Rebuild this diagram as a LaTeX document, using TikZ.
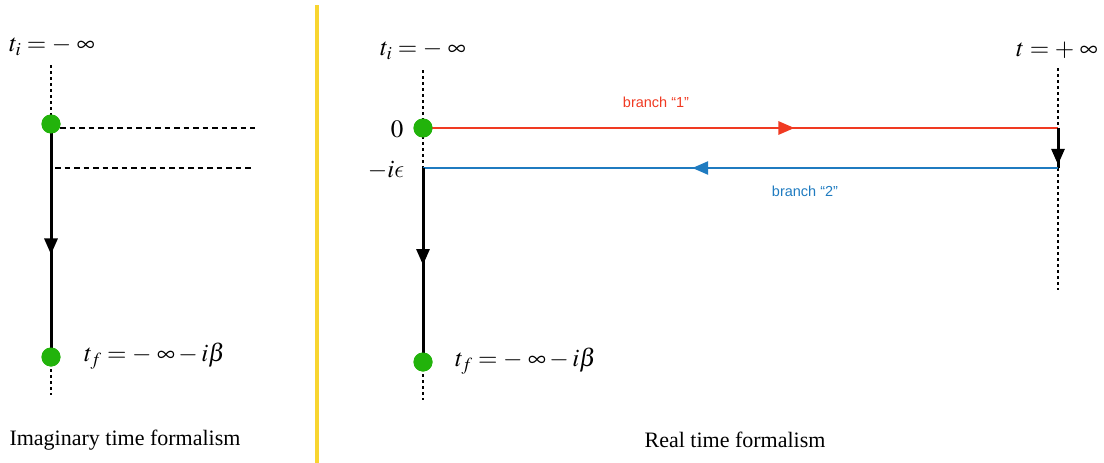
\documentclass[tikz,border=0pt]{standalone}
\usepackage{mathptmx}
\usepackage{fontspec}
\setmainfont{Liberation Serif}
\newfontfamily\branchfont{Liberation Sans}
\DeclareSymbolFont{cmletters}{OML}{cmm}{m}{it}
\DeclareMathSymbol{\lunateeps}{\mathord}{cmletters}{"0F}
\usetikzlibrary{arrows.meta,decorations.markings}
\definecolor{dotgreen}{HTML}{22B30B}
\definecolor{brone}{HTML}{F03A22}
\definecolor{brtwo}{HTML}{1F7BC0}
\definecolor{sepyellow}{HTML}{F8D530}
\begin{document}
\begin{tikzpicture}[x=1pt,y=-1pt,
  dot/.style={circle,fill=dotgreen,inner sep=0pt,minimum size=19pt},
  lbl/.style={inner sep=0pt,font=\fontsize{25}{30}\selectfont},
  captxt/.style={inner sep=0pt,font=\fontsize{22}{26}\selectfont},
  brlbl/.style={inner sep=0pt,font=\branchfont\fontsize{14.5}{17}\selectfont},
  dotline/.style={line width=1.4pt,dash pattern=on 3pt off 3pt},
  dashline/.style={line width=1.6pt,dash pattern=on 5.5pt off 4pt},
  solidline/.style={line width=3pt},
  colline/.style={line width=2.6pt},
  midarrow/.style={postaction={decorate},decoration={markings,
    mark=at position #1 with {\arrow{Triangle[length=16pt,width=13pt]}}}}
]
\useasboundingbox (0,0) rectangle (1104,463);

% separator
\coordinate (s1) at (317,5);
\coordinate (s2) at (317,463);
\draw[sepyellow,line width=4pt] (s1) -- (s2);

% ---------- left panel ----------
\coordinate (lt) at (51,65);
\coordinate (lb) at (51,395);
\coordinate (d1s) at (60,128);
\coordinate (d1e) at (255,128);
\coordinate (d2s) at (55,168);
\coordinate (d2e) at (253,168);
\node[dot] (la) at (51,124) {};
\node[dot] (lf) at (51,357) {};
\draw[dotline] (lt) -- (la.center);
\draw[dotline] (lf.center) -- (lb);
\draw[solidline,midarrow=0.56] (la.center) -- (lf.center);
\node[dot] at (51,124) {};
\node[dot] at (51,357) {};
\draw[dashline] (d1s) -- (d1e);
\draw[dashline] (d2s) -- (d2e);
\node[lbl] (lti) at (52,46) {$t_i = -\;\infty$};
\node[lbl,anchor=west] (ltf) at (84,356) {$t_f = -\;\infty - i\beta$};
\node[captxt] (lcap) at (125,440) {Imaginary time formalism};

% ---------- right panel ----------
\coordinate (rt) at (423,70);
\coordinate (re) at (423,168);
\coordinate (rb) at (423,400);
\coordinate (qt) at (1058,68);
\coordinate (q1) at (1058,128);
\coordinate (q2) at (1058,168);
\coordinate (qb) at (1058,290);
\node[dot] (ra) at (423,128) {};
\node[dot] (rf) at (423,362) {};
\draw[dotline] (rt) -- (ra.center) -- (re);
\draw[dotline] (rf.center) -- (rb);
\draw[dotline] (qt) -- (q1);
\draw[dotline] (q2) -- (qb);
\draw[brone,colline,midarrow=0.585] (ra.center) -- (q1);
\draw[solidline,midarrow=0.92] (q1) -- (q2);
\draw[brtwo,colline,midarrow=0.576] (q2) -- (re);
\draw[solidline,midarrow=0.5] (re) -- (rf.center);
\node[dot] at (423,128) {};
\node[dot] at (423,362) {};
\node[lbl] (rti) at (423,50) {$t_i = -\;\infty$};
\node[lbl] (rtp) at (1057,50) {$t = +\;\infty$};
\node[lbl] (rz) at (397,129) {$0$};
\node[lbl] (rie) at (386,170) {$-i\lunateeps$};
\node[lbl,anchor=west] (rtf) at (455,361) {$t_f = -\;\infty - i\beta$};
\node[brlbl,text=brone] (b1) at (656,102) {branch “1”};
\node[brlbl,text=brtwo] (b2) at (805,191) {branch “2”};
\node[captxt] (rcap) at (735,440) {Real time formalism};
\end{tikzpicture}
\end{document}
